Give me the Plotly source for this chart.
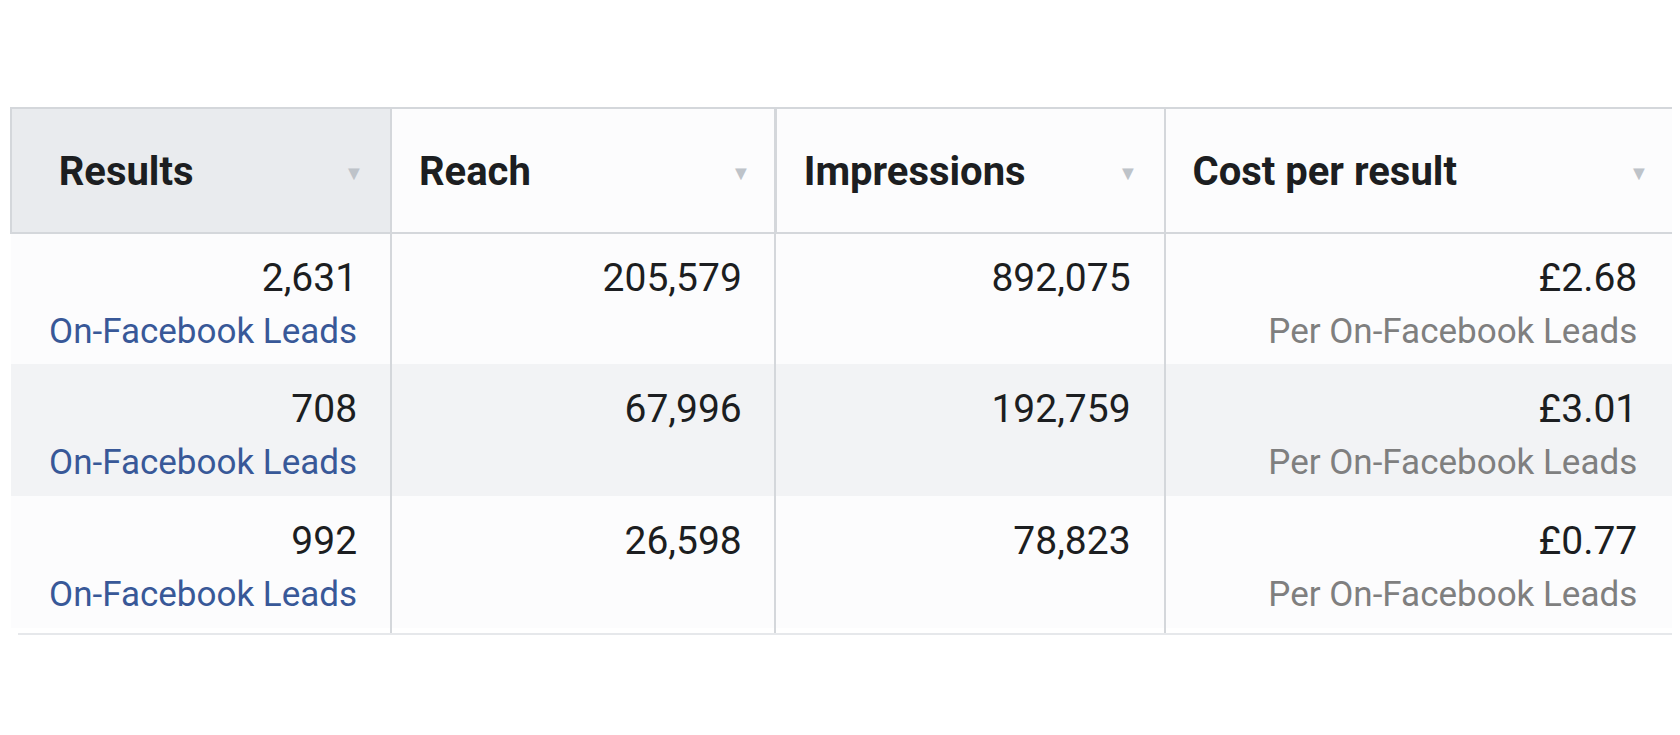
import plotly.graph_objects as go

headers = ["Results", "Reach", "Impressions", "Cost per result"]
results = ["2,631", "708", "992"]
result_label = "On-Facebook Leads"
reach = ["205,579", "67,996", "26,598"]
impressions = ["892,075", "192,759", "78,823"]
cost = ["£2.68", "£3.01", "£0.77"]
cost_label = "Per On-Facebook Leads"

W, H = 1680, 735
NB = "\u00a0"
DARK = "#1c1e21"
vsp = "<span style='font-size:4px'> </span><br>"

def interleave(vals, lab, pad):
    out = []
    for v in vals:
        out.append(vsp + f"<span style='font-size:39px'>{v}</span>" + NB * pad)
        out.append((lab.replace(" ", NB) + NB * pad) if lab else " ")
    return out

c1 = interleave(results, result_label, 3)
c2 = interleave(reach, None, 3)
c3 = interleave(impressions, None, 3)
c4 = interleave(cost, cost_label, 4)
colors = [[DARK, "#385898"] * 3, [DARK] * 6, [DARK] * 6, [DARK, "#7f7f7f"] * 3]

top = "<span style='font-size:18px'> </span><br>"
hdr = [top + NB * 4 + "<b>" + headers[0] + "</b>"] + [top + NB * 2 + "<b>" + h + "</b>" for h in headers[1:]]

fills = ["#fcfcfd"] * 2 + ["#f2f3f5"] * 2 + ["#fcfcfd"] * 2
fig = go.Figure(go.Table(
    domain=dict(x=[3 / W, 1672 / W], y=[1 - 640 / H, 1 - 100 / H]),
    columnwidth=[372.5, 377, 381, 505],
    header=dict(values=hdr, align="left", height=125,
                fill_color=[["#e9ebee"], ["#fcfcfd"], ["#fcfcfd"], ["#fcfcfd"]],
                line_color="#d4d7db", line_width=2,
                font=dict(family="Roboto", size=40, color=DARK)),
    cells=dict(values=[c1, c2, c3, c4], align="right",
               height=56, fill_color=[fills] * 4,
               line_color=[fills] * 4, line_width=1,
               font=dict(family="Roboto", size=35, color=colors)),
))
for xb in [383, 767, 1157]:
    fig.add_shape(type="line", xref="paper", yref="paper", x0=xb / W, x1=xb / W,
                  y0=1 - 626 / H, y1=1 - 100 / H, line=dict(color="#d4d7db", width=2))
fig.add_shape(type="line", xref="paper", yref="paper", x0=10 / W, x1=1664 / W,
              y0=1 - 626 / H, y1=1 - 626 / H, line=dict(color="#e6e8eb", width=2))
for xt in [334, 733, 1120, 1643]:
    fig.add_annotation(x=xt / W, y=1 - 149 / H, xref="paper", yref="paper", text="▼",
                       showarrow=False, font=dict(size=20, color="#bec3c9"))
fig.update_layout(width=W, height=H, margin=dict(l=0, r=0, t=0, b=0),
                  paper_bgcolor="white", plot_bgcolor="white")
fig.write_html("out.html")
